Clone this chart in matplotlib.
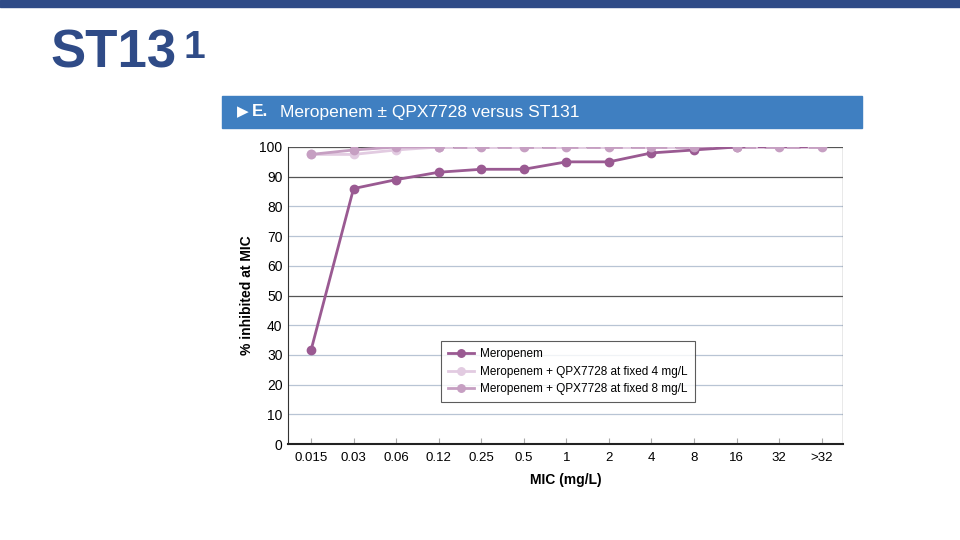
import matplotlib
matplotlib.use('Agg')
import matplotlib.pyplot as plt
from matplotlib.patches import Rectangle

plt.rcParams['font.family'] = ['Liberation Sans', 'DejaVu Sans']

mic_labels = ['0.015', '0.03', '0.06', '0.12', '0.25', '0.5', '1', '2', '4', '8', '16', '32', '>32']
meropenem = [31.5, 86, 89, 91.5, 92.5, 92.5, 95, 95, 98, 99, 100, 100, 100]
fixed4 = [97.5, 97.5, 99, 100, 100, 100, 100, 100, 100, 100, 100, 100, 100]
fixed8 = [97.5, 99, 100, 100, 100, 100, 100, 100, 100, 100, 100, 100, 100]
# index where the solid line stops and the dashed plateau starts
mero_solid_end = 10
fixed4_solid_end = 3
fixed8_solid_end = 3

c_mero = '#9a5a92'
c_f4 = '#e2cbe1'
c_f8 = '#c69fc2'
navy = '#2f4b87'

fig = plt.figure(figsize=(9.6, 5.4), dpi=100)

# top stripe and slide title
fig.patches.append(Rectangle((0, 1 - 7 / 540), 1, 7 / 540, transform=fig.transFigure,
                             color=navy, zorder=0))
fig.text(0.053, 1 - 54 / 540, 'ST13', fontsize=38, fontweight='bold', color=navy, va='center')
fig.text(183 / 960, 1 - 48 / 540, '1', fontsize=28, fontweight='bold', color=navy, va='center')

# panel header bar
fig.patches.append(Rectangle((222 / 960, 1 - 128 / 540), 640 / 960, 32 / 540,
                             transform=fig.transFigure, color='#3f7fc1', zorder=0))
fig.text(237 / 960, 1 - 112 / 540, '▶', fontsize=11, color='white', va='center',
         family='DejaVu Sans')
fig.text(252 / 960, 1 - 112 / 540, 'E.', fontsize=12.5, fontweight='bold', color='white', va='center')
fig.text(280 / 960, 1 - 112 / 540, 'Meropenem ± QPX7728 versus ST131', fontsize=12.5,
         color='white', va='center')

ax = fig.add_axes([288 / 960, 1 - 444 / 540, 555 / 960, 297 / 540])
x = list(range(len(mic_labels)))

for yv in range(10, 101, 10):
    col = '#555555' if yv in (50, 90, 100) else '#b8c4d4'
    ax.axhline(yv, color=col, lw=0.9, zorder=1)

# dashed plateaus
ax.plot(x[fixed4_solid_end:], fixed4[fixed4_solid_end:], color=c_f4, lw=2, ls=(0, (5, 3)), zorder=2)
ax.plot(x[fixed8_solid_end:], fixed8[fixed8_solid_end:], color=c_f8, lw=2, ls=(3, (5, 3)), zorder=2)
ax.plot(x[mero_solid_end:], meropenem[mero_solid_end:], color=c_mero, lw=1.5, ls=(0, (4, 6)), zorder=2)

ax.plot(x[:fixed4_solid_end + 1], fixed4[:fixed4_solid_end + 1], color=c_f4, lw=2,
        marker='o', ms=6, label='Meropenem + QPX7728 at fixed 4 mg/L', zorder=3)
ax.plot(x[:fixed8_solid_end + 1], fixed8[:fixed8_solid_end + 1], color=c_f8, lw=2,
        marker='o', ms=6, label='Meropenem + QPX7728 at fixed 8 mg/L', zorder=3)
ax.plot(x[fixed8_solid_end:], fixed8[fixed8_solid_end:], ls='none', marker='o', ms=6,
        color=c_f8, zorder=4)
ax.plot(x[:mero_solid_end + 1], meropenem[:mero_solid_end + 1], color=c_mero, lw=2,
        marker='o', ms=6, label='Meropenem', zorder=3)

ax.set_xlim(-0.54, 12.5)
ax.set_ylim(0, 100)
ax.set_xticks(x)
ax.set_xticklabels(mic_labels, fontsize=9.5)
ax.set_yticks(range(0, 101, 10))
ax.tick_params(axis='y', length=0, labelsize=10, pad=4)
ax.tick_params(axis='x', direction='in', length=4, color='#aaaaaa', labelsize=9.5, pad=6)
for s in ['top', 'right']:
    ax.spines[s].set_visible(False)
ax.spines['left'].set_color('#333333')
ax.spines['bottom'].set_color('#222222')
ax.spines['bottom'].set_linewidth(1.5)
ax.axvline(12.5, color='#555555', lw=0.9)

ax.set_ylabel('% inhibited at MIC', fontsize=10, fontweight='bold', labelpad=4)
ax.set_xlabel('MIC (mg/L)', fontsize=10, fontweight='bold', labelpad=6)

h, l = ax.get_legend_handles_labels()
order = [2, 0, 1]
leg = ax.legend([h[i] for i in order], [l[i] for i in order], loc='lower left',
                bbox_to_anchor=(0.276, 0.141), borderaxespad=0, fontsize=8.5, frameon=True,
                fancybox=False, borderpad=0.6, labelspacing=0.45, handlelength=2.2,
                handletextpad=0.5, markerscale=0.9)
leg.get_frame().set_edgecolor('#333333')
leg.get_frame().set_linewidth(0.8)

fig.savefig('out.png', dpi=100)
